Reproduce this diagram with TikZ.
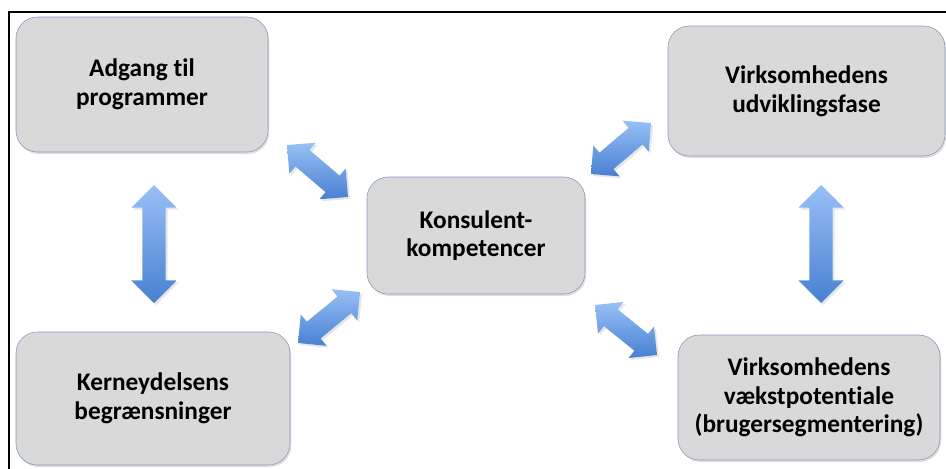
\documentclass[tikz,border=0pt]{standalone}
\usepackage{fontspec}
\setmainfont[Ligatures=NoCommon]{Carlito}
\usetikzlibrary{calc,shapes.arrows,shadows}

\definecolor{boxfill}{RGB}{217,217,217}
\definecolor{boxline}{RGB}{128,152,186}
\definecolor{arrowlight}{RGB}{152,192,246}
\definecolor{arrowdark}{RGB}{72,128,210}

\begin{document}
\begin{tikzpicture}[x=0.75pt,y=-0.75pt,
    box/.style={draw=boxline, fill=boxfill, rounded corners=16pt, align=center,
      font=\bfseries\fontsize{19}{21.5}\selectfont,
      drop shadow={shadow xshift=1pt, shadow yshift=-1.5pt, opacity=.25}},
    blockarrow/.style={double arrow, double arrow head extend=8.25pt,
      inner xsep=0pt, inner ysep=8.6pt, draw=none,
      top color=arrowlight, bottom color=arrowdark,
      sloped, allow upside down,
      drop shadow={shadow xshift=1.5pt, shadow yshift=-1.5pt, opacity=.2}},
    thinarrow/.style={double arrow head extend=7.1pt, inner ysep=7.9pt}]
        \useasboundingbox (0,0) rectangle (946,468);
        \draw[line width=1.3pt] (9,475) -- (9,12) -- (955,12);

        \node[box, minimum width=189pt, minimum height=101.25pt] (adgang) at (142,84.5) {Adgang til\\programmer};
        \node[box, minimum width=205.5pt, minimum height=99.75pt] (kerne) at (153,398.5) {Kerneydelsens\\begrænsninger};
        \node[box, minimum width=163.5pt, minimum height=87.75pt] (konsulent) at (476,235.5) {Konsulent-\\kompetencer};
        \node[box, minimum width=207.75pt, minimum height=97.5pt] (udvikling) at (806.5,91) {Virksomhedens\\udviklingsfase};
        \node[box, minimum width=196.5pt, minimum height=93.75pt] (vaekst) at (809,397.5) {Virksomhedens\\vækstpotentiale\\(brugersegmentering)};

        % arrow ends, lower end first
        \coordinate (lv1) at (154,303);
        \coordinate (lv2) at (154,185);
        \coordinate (rv1) at (821,303);
        \coordinate (rv2) at (821,185);
        \coordinate (ul1) at (348,197);
        \coordinate (ul2) at (287,145);
        \coordinate (ll1) at (298,343);
        \coordinate (ll2) at (360,292);
        \coordinate (ur1) at (591,174);
        \coordinate (ur2) at (651,123);
        \coordinate (lr1) at (657,355);
        \coordinate (lr2) at (595,305);

        \path let \p1=($(lv2)-(lv1)$), \n1={veclen(\x1,\y1)} in (lv1) -- (lv2) node[blockarrow, midway, minimum height=\n1] {};
        \path let \p1=($(rv2)-(rv1)$), \n1={veclen(\x1,\y1)} in (rv1) -- (rv2) node[blockarrow, midway, minimum height=\n1] {};
        \path let \p1=($(ul2)-(ul1)$), \n1={veclen(\x1,\y1)} in (ul1) -- (ul2) node[blockarrow, thinarrow, midway, minimum height=\n1] {};
        \path let \p1=($(ll2)-(ll1)$), \n1={veclen(\x1,\y1)} in (ll1) -- (ll2) node[blockarrow, thinarrow, midway, minimum height=\n1] {};
        \path let \p1=($(ur2)-(ur1)$), \n1={veclen(\x1,\y1)} in (ur1) -- (ur2) node[blockarrow, thinarrow, midway, minimum height=\n1] {};
        \path let \p1=($(lr2)-(lr1)$), \n1={veclen(\x1,\y1)} in (lr1) -- (lr2) node[blockarrow, thinarrow, midway, minimum height=\n1] {};
\end{tikzpicture}
\end{document}
